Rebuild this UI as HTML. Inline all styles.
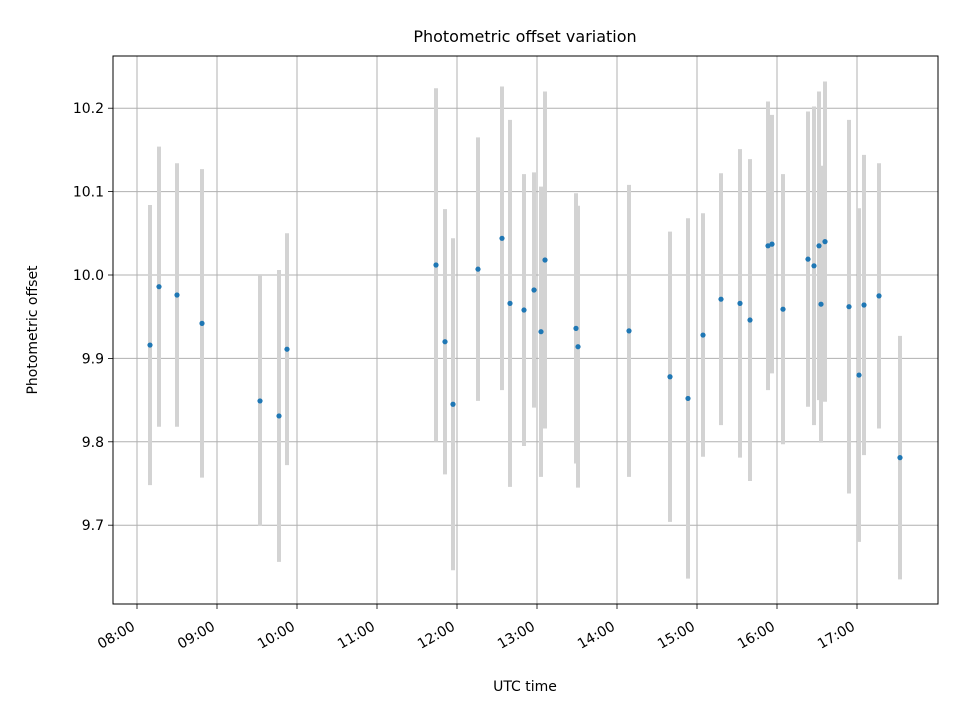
<!DOCTYPE html>
<html><head><meta charset="utf-8"><style>
body{margin:0;background:#fff;font-family:"Liberation Sans","DejaVu Sans",sans-serif}
</style></head><body>
<svg id="chart" width="960" height="720" xmlns="http://www.w3.org/2000/svg" font-family="'DejaVu Sans','Liberation Sans',sans-serif">
<rect width="960" height="720" fill="#fff"/>
<g id="grid"></g><g id="bars"></g><g id="pts"></g><g id="axes"></g>
<text x="525" y="42" text-anchor="middle" font-size="16">Photometric offset variation</text>
<text x="525" y="691" text-anchor="middle" font-size="14">UTC time</text>
<text transform="translate(37,330) rotate(-90)" text-anchor="middle" font-size="14">Photometric offset</text>
</svg>
<script>
const times=[8.1625,8.275,8.5,8.8125,9.5375,9.775,9.875,11.7375,11.85,11.95,12.2625,12.5625,12.6625,12.8375,12.9625,13.05,13.1,13.4875,13.5125,14.15,14.6625,14.8875,15.075,15.3,15.5375,15.6625,15.8875,15.9375,16.075,16.3875,16.4625,16.525,16.55,16.6,16.9,17.025,17.0875,17.275,17.5375];
const offsets=[9.916,9.986,9.976,9.942,9.849,9.831,9.911,10.012,9.92,9.845,10.007,10.044,9.966,9.958,9.982,9.932,10.018,9.936,9.914,9.933,9.878,9.852,9.928,9.971,9.966,9.946,10.035,10.037,9.959,10.019,10.011,10.035,9.965,10.04,9.962,9.88,9.964,9.975,9.781];
const errors=[0.168,0.168,0.158,0.185,0.15,0.175,0.139,0.212,0.159,0.199,0.158,0.182,0.22,0.163,0.141,0.174,0.202,0.162,0.169,0.175,0.174,0.216,0.146,0.151,0.185,0.193,0.173,0.155,0.162,0.177,0.191,0.185,0.166,0.192,0.224,0.2,0.18,0.159,0.146];
const xTicks=[8,9,10,11,12,13,14,15,16,17];
const xTickLabels=["08:00","09:00","10:00","11:00","12:00","13:00","14:00","15:00","16:00","17:00"];
const yTicks=[9.7,9.8,9.9,10.0,10.1,10.2];
const yTickLabels=["9.7","9.8","9.9","10.0","10.1","10.2"];
const L=113,R=938,T=56,B=604,X0=7.7,X1=18.0125,Y0=9.6055,Y1=10.2626;
const sx=v=>L+(v-X0)/(X1-X0)*(R-L), sy=v=>B-(v-Y0)/(Y1-Y0)*(B-T);
const NS="http://www.w3.org/2000/svg";
function mk(p,t,a){const e=document.createElementNS(NS,t);for(const k in a)e.setAttribute(k,a[k]);document.getElementById(p).appendChild(e);return e;}
xTicks.forEach((v,i)=>{const x=sx(v);
 const g=mk('grid','line',{x1:x,x2:x,y1:T,y2:B,stroke:'#b0b0b0','stroke-width':1});
 
 mk('axes','line',{x1:x,x2:x,y1:B,y2:B+5,stroke:'#000','stroke-width':0.8});
 const t=mk('axes','text',{'font-size':14,'text-anchor':'end',transform:`translate(${x-1},${B+25}) rotate(-30)`});
 t.textContent=xTickLabels[i];
 });
yTicks.forEach((v,i)=>{const y=sy(v);
 const g=mk('grid','line',{x1:L,x2:R,y1:y,y2:y,stroke:'#b0b0b0','stroke-width':1});
 
 mk('axes','line',{x1:L-5,x2:L,y1:y,y2:y,stroke:'#000','stroke-width':0.8});
 const t=mk('axes','text',{'font-size':14,'text-anchor':'end',x:L-9,y:y+5});
 t.textContent=yTickLabels[i];
 });
const fr=mk('axes','rect',{x:L,y:T,width:R-L,height:B-T,fill:'none',stroke:'#000','stroke-width':1});

times.forEach((t,i)=>{const x=sx(t);
 const b=mk('bars','line',{x1:x,x2:x,y1:sy(offsets[i]+errors[i]),y2:sy(offsets[i]-errors[i]),stroke:'#d3d3d3','stroke-width':4});
 
 const c=mk('pts','circle',{cx:x,cy:sy(offsets[i]),r:2.6,fill:'#1f77b4'});
 });
</script>
</body></html>
